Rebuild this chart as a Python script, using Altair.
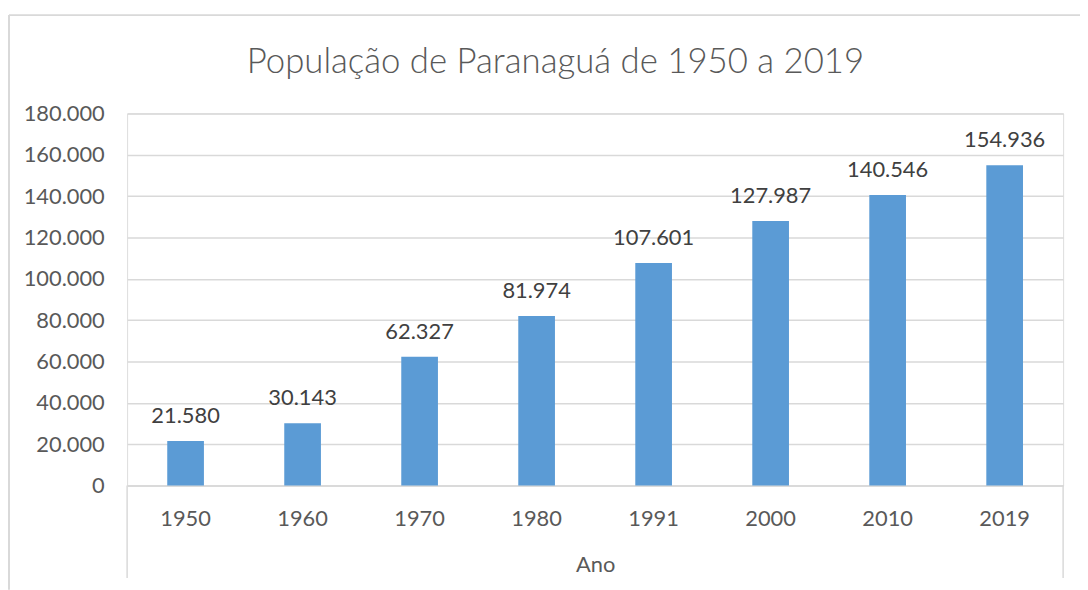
import altair as alt
import pandas as pd

anos = ["1950", "1960", "1970", "1980", "1991", "2000", "2010", "2019"]
populacao = [21580, 30143, 62327, 81974, 107601, 127987, 140546, 154936]
titulo = "População de Paranaguá de 1950 a 2019"
y_ticks = [0, 20000, 40000, 60000, 80000, 100000, 120000, 140000, 160000, 180000]

df = pd.DataFrame({
    "Ano": anos,
    "Pop": populacao,
    "Rotulo": [f"{v:,}".replace(",", ".") for v in populacao],
})

FONT = "Lato"
GREY = "#595959"
LINE = "#d9d9d9"

x_enc = alt.X(
    "Ano:N", sort=anos,
    scale=alt.Scale(paddingInner=0.6865, paddingOuter=0.343),
    axis=alt.Axis(
        title="Ano", labelAngle=0, ticks=False, domainColor=LINE, domainWidth=1.5,
        labelFont=FONT, labelFontSize=22, labelColor=GREY, labelPadding=23,
        titleFont=FONT, titleFontSize=22, titleColor=GREY, titleFontWeight="normal",
        titlePadding=26,
    ),
)
y_enc = alt.Y(
    "Pop:Q",
    scale=alt.Scale(domain=[0, 180000], nice=False),
    axis=alt.Axis(
        title=None, values=y_ticks, domain=False, ticks=False,
        gridColor=LINE, gridWidth=1.5,
        labelExpr="replace(format(datum.value, ',d'), ',', '.')",
        labelFont=FONT, labelFontSize=22, labelColor=GREY, labelPadding=23,
    ),
)

base = alt.Chart(df)
bars = base.mark_bar(color="#5b9bd5").encode(x=x_enc, y=y_enc)
labels = base.mark_text(
    font=FONT, fontSize=22, color="#404040", baseline="alphabetic", dy=-18
).encode(x=alt.X("Ano:N", sort=anos), y="Pop:Q", text="Rotulo:N")

one = alt.Chart(pd.DataFrame({"k": [0]}))
left_box = one.mark_rule(color=LINE, strokeWidth=1.5).encode(
    x=alt.value(0), y=alt.value(375), y2=alt.value(468))
right_box = one.mark_rule(color=LINE, strokeWidth=1.5).encode(
    x=alt.value(943), y=alt.value(375), y2=alt.value(468))
outer_left = one.mark_rule(color=LINE, strokeWidth=2).encode(
    x=alt.value(-119), y=alt.value(-99), y2=alt.value(480))
outer_top = one.mark_rule(color=LINE, strokeWidth=2).encode(
    x=alt.value(-119), x2=alt.value(970), y=alt.value(-99))

chart = alt.layer(bars, labels, left_box, right_box, outer_left, outer_top).properties(
    width=943, height=375,
    title=alt.TitleParams(
        titulo, font=FONT, fontSize=35, fontWeight=300, color=GREY,
        anchor="middle", offset=-66, dx=-40,
    ),
    autosize=alt.AutoSizeParams(type="none"),
    padding={"left": 120, "top": 104, "right": 17, "bottom": 103},
).configure_view(stroke=None).configure(background="white")

chart.save("out.html", embed_options={"renderer": "svg", "actions": False})
